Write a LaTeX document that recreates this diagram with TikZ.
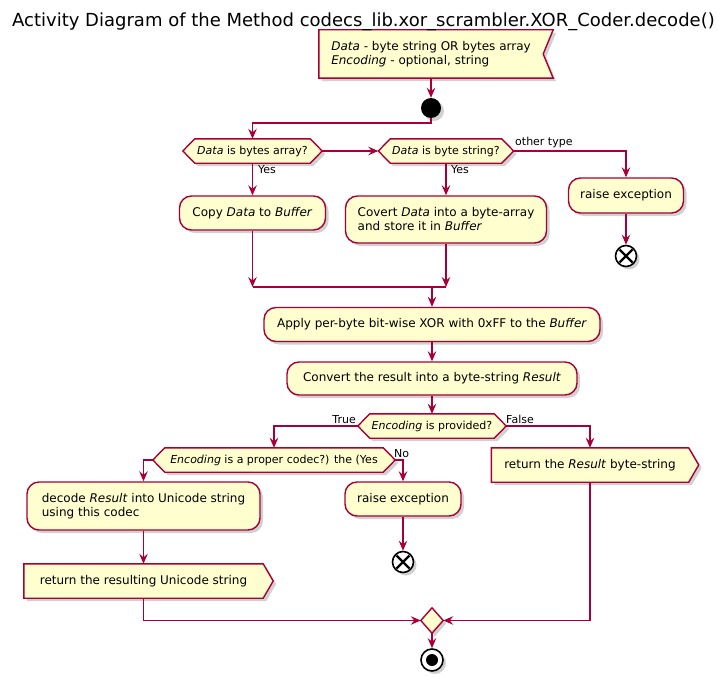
\documentclass[tikz,border=0pt]{standalone}
\usepackage{fontspec}
\setmainfont{DejaVu Sans}
\usetikzlibrary{arrows.meta,shadows,backgrounds,calc}
\definecolor{pborder}{HTML}{A80036}
\definecolor{pfill}{HTML}{FEFECE}
\newcommand\hexout[1]{\begin{scope}[on background layer]\path[outline] (#1.west) -- ([xshift=12pt]#1.north west) -- ([xshift=-12pt]#1.north east) -- (#1.east) -- ([xshift=-12pt]#1.south east) -- ([xshift=12pt]#1.south west) -- cycle;\end{scope}}
\newcommand\outshape[1]{\begin{scope}[on background layer]\path[outline] (#1.north west) -- (#1.north east) -- ([xshift=10pt]#1.east) -- (#1.south east) -- (#1.south west) -- cycle;\end{scope}}
\newcommand\inshape[1]{\begin{scope}[on background layer]\path[outline] (#1.north west) -- ([xshift=10pt]#1.north east) -- (#1.east) -- ([xshift=10pt]#1.south east) -- (#1.south west) -- cycle;\end{scope}}
\newcommand\diamout[1]{\begin{scope}[on background layer]\path[outline] (#1.west) -- (#1.north) -- (#1.east) -- (#1.south) -- cycle;\end{scope}}
\begin{document}
\begin{tikzpicture}[x=1pt,y=-1pt,
  every node/.style={font=\fontsize{12}{14}\selectfont},
  shad/.style={drop shadow={shadow xshift=3pt,shadow yshift=-3pt,opacity=0.3,fill=black!60}},
  act/.style={rectangle, rounded corners=12pt, draw=pborder, fill=pfill, line width=1.4pt, align=left, inner sep=0pt, shad},
  frame/.style={rectangle, draw=none, fill=none, inner sep=0pt, align=left},
  dec/.style={frame, font=\fontsize{11}{13}\selectfont, minimum height=24pt},
  outline/.style={draw=pborder, fill=pfill, line width=1.4pt, line join=miter, shad},
  conn/.style={draw=pborder, line width=1.2pt, -{Stealth[length=10pt,width=8.5pt,inset=3.5pt]}},
  plain/.style={draw=pborder, line width=1.2pt},
  lbl/.style={font=\fontsize{11}{13}\selectfont, inner sep=0pt},
  endx/.style={circle, draw=black, line width=1.6pt, fill=white, minimum size=21pt, inner sep=0pt, shad},
]
\useasboundingbox (0,0) rectangle (722,690);

\node[anchor=base west, inner sep=0pt, font=\fontsize{18}{22}\selectfont] (title) at (12,27) {Activity Diagram of the Method codecs\_lib.xor\_scrambler.XOR\_Coder.decode()};

% input
\node[frame, minimum width=224pt, minimum height=48pt] (input) at (431,54) {\textit{Data} - byte string OR bytes array\\\textit{Encoding} - optional, string};
\inshape{input}

\node[circle, fill=black, minimum size=20pt, inner sep=0pt, shad] (start) at (431,108) {};

% decisions row 1
\node[dec, minimum width=139pt] (d1) at (252.5,151) {\textit{Data} is bytes array?};
\hexout{d1}
\node[dec, minimum width=135pt] (d2) at (446,151) {\textit{Data} is byte string?};
\hexout{d2}

\node[act, minimum width=115pt, minimum height=35pt] (raise1) at (626,195.5) {raise exception};
\node[endx] (end1) at (626,256) {};
\draw[line width=2.2pt, black] (end1.center) +(-6.5,-6.5) -- +(6.5,6.5) (end1.center) +(-6.5,6.5) -- +(6.5,-6.5);

\node[act, minimum width=146pt, minimum height=34pt] (copy) at (252.5,213) {Copy \textit{Data} to \textit{Buffer}};
\node[act, minimum width=201pt, minimum height=47pt] (covert) at (446,219.5) {Covert \textit{Data} into a byte-array\\and store it in \textit{Buffer}};

\coordinate (m1) at (432,287);

\node[act, minimum width=336pt, minimum height=34pt] (apply) at (432,324.5) {Apply per-byte bit-wise XOR with 0xFF to the \textit{Buffer}};
\node[act, minimum width=290pt, minimum height=33pt] (convert) at (432,378.5) {Convert the result into a byte-string \textit{Result}};

\node[dec, minimum width=148pt] (d3) at (432,426) {\textit{Encoding} is provided?};
\hexout{d3}

\node[frame, minimum width=197pt, minimum height=34pt] (result) at (590,465) {return the \textit{Result} byte-string};
\outshape{result}

\node[dec, minimum width=242pt] (d4) at (274,460) {\textit{Encoding} is a proper codec?) the (Yes};
\hexout{d4}

\node[act, minimum width=233pt, minimum height=48pt] (decode) at (143.5,506) {decode \textit{Result} into Unicode string\\using this codec};
\node[act, minimum width=116pt, minimum height=34pt] (raise2) at (403,499) {raise exception};
\node[endx] (end2) at (403,562) {};
\draw[line width=2.2pt, black] (end2.center) +(-6.5,-6.5) -- +(6.5,6.5) (end2.center) +(-6.5,6.5) -- +(6.5,-6.5);

\node[frame, minimum width=239pt, minimum height=34pt] (retres) at (143.5,581) {return the resulting Unicode string};
\outshape{retres}

\node[frame, minimum width=22pt, minimum height=25pt] (merge) at (432,620.5) {};
\diamout{merge}

\node[endx, minimum size=22pt] (stop) at (432,660) {};
\fill[black] (stop.center) circle (6pt);

% connectors
\draw[conn] (input.south) -- (start.north);
\draw[conn] (start.south) -- (start.south |- 0,123) -| (d1.north);
\draw[conn] (d1.east) -- (d2.west);
\draw[conn] (d2.east) -| (raise1.north);
\node[lbl, anchor=base west] (lot) at (515,146) {other type};
\draw[conn] (raise1.south) -- (end1.north);
\draw[conn] (d1.south) -- (copy.north);
\node[lbl, anchor=base west] (ly1) at (258,173) {Yes};
\draw[conn] (d2.south) -- (covert.north);
\node[lbl, anchor=base west] (ly2) at (451,173) {Yes};
\draw[conn] (copy.south) -- (copy.south |- m1);
\draw[conn] (covert.south) -- (covert.south |- m1);
\draw[plain] (copy.south |- m1) -- (covert.south |- m1);
\draw[conn] (m1) -- (apply.north);
\draw[conn] (apply.south) -- (convert.north);
\draw[conn] (convert.south) -- (d3.north);
\draw[conn] (d3.west) -| (d4.north);
\node[lbl, anchor=base east] (ltrue) at (356,423) {True};
\draw[conn] (d3.east) -| (result.north);
\node[lbl, anchor=base west] (lfalse) at (506,423) {False};
\draw[conn] (d4.west) -| (decode.north);
\draw[conn] (d4.east) -| (raise2.north);
\node[lbl, anchor=base west] (lno) at (394,457) {No};
\draw[conn] (raise2.south) -- (end2.north);
\draw[conn] (decode.south) -- (retres.north);
\draw[conn] (retres.south) |- (merge.west);
\draw[conn] (result.south) |- (merge.east);
\draw[conn] (merge.south) -- (stop.north);
\end{tikzpicture}
\end{document}
